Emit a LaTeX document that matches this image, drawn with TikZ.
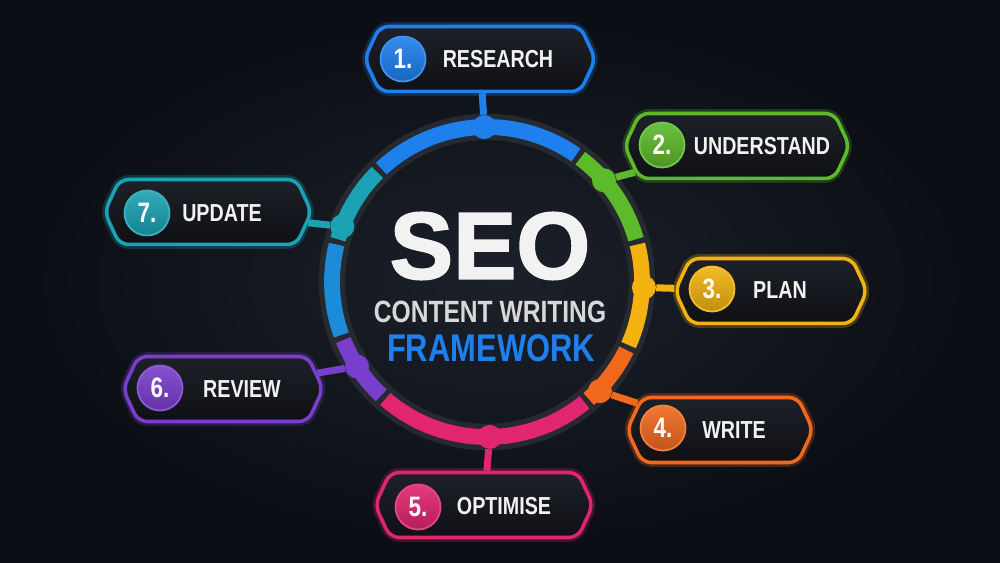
\documentclass[tikz,border=0pt]{standalone}
\usepackage{fontspec}
\setmainfont{Liberation Sans}
\newfontfamily\condfont[FakeStretch=0.8]{Liberation Sans}
\newfontfamily\heavyfont[FakeBold=2]{Liberation Sans}
\usepackage{tikz}
\usetikzlibrary{shapes.symbols}
\definecolor{bgin}{HTML}{1C2029}
\definecolor{bgout}{HTML}{0A0D13}
\definecolor{ringdark}{HTML}{262930}
\definecolor{sblue}{HTML}{1E80EC}
\definecolor{sgreen}{HTML}{5DBA2B}
\definecolor{syellow}{HTML}{F2B20F}
\definecolor{sorange}{HTML}{F2691E}
\definecolor{spink}{HTML}{E2256F}
\definecolor{spurple}{HTML}{7A3ECD}
\definecolor{steal}{HTML}{1BA2B4}
\definecolor{boxtop}{HTML}{1E2128}
\definecolor{boxbottom}{HTML}{0E1014}
\definecolor{txt}{HTML}{F2F2F2}
\definecolor{subtxt}{HTML}{D8D8D8}

\begin{document}
\begin{tikzpicture}[x=0.02cm, y=-0.02cm,
                    badge/.style={signal, signal to=west and east, signal pointer angle=130,
                                  rounded corners=5pt, draw=#1, line width=2pt,
                                  top color=boxtop, bottom color=boxbottom,
                                  minimum height=1.3cm, inner sep=0pt,
                                  preaction={draw=#1, line width=5pt, opacity=0.25}},
                    num/.style={circle, minimum size=0.9cm, inner sep=0pt,
                                top color=#1!90!white, bottom color=#1!80!black,
                                draw=#1!85!white, line width=1pt, text=white,
                                font=\condfont\bfseries\fontsize{16}{16}\selectfont},
                    steptext/.style={text=txt, inner sep=0pt,
                                     font=\condfont\bfseries\fontsize{14}{14}\selectfont},
                    ringdot/.style={circle, fill=#1, minimum size=0.48cm, inner sep=0pt},
                    connector/.style={draw=#1, line width=4pt},
                    ringseg/.style={draw=#1, line width=9pt},
                    title/.style={inner sep=0pt}]

    \useasboundingbox (0,0) rectangle (1000,563);
    \shade[inner color=bgin, outer color=bgout] (0,0) rectangle (1000,563);

    % ring
    \draw[ringdark, line width=15pt] (487,282) circle[radius=155];
    \begin{scope}[shift={(487,282)}, yscale=-1]
        \draw[ringseg=sgreen] (16:155) arc[start angle=16, end angle=53, radius=155];
        \draw[ringseg=sblue] (55:155) arc[start angle=55, end angle=133, radius=155];
        \draw[ringseg=steal] (135:155) arc[start angle=135, end angle=164, radius=155];
        \draw[ringseg=steal!35!sblue] (166:155) arc[start angle=166, end angle=200, radius=155];
        \draw[ringseg=spurple] (202:155) arc[start angle=202, end angle=227, radius=155];
        \draw[ringseg=spink] (229:155) arc[start angle=229, end angle=309, radius=155];
        \draw[ringseg=sorange] (311:155) arc[start angle=311, end angle=334, radius=155];
        \draw[ringseg=syellow] (336:155) arc[start angle=336, end angle=374, radius=155];
        % dots on the ring
        \node[ringdot=sblue] (d1) at (91:155) {};
        \node[ringdot=sgreen] (d2) at (41:155) {};
        \node[ringdot=syellow] (d3) at (-2:157) {};
        \node[ringdot=sorange] (d4) at (-44:157) {};
        \node[ringdot=spink] (d5) at (-89:155) {};
        \node[ringdot=spurple] (d6) at (213:155) {};
        \node[ringdot=steal] (d7) at (159:155) {};
    \end{scope}

    % step 1
    \node[badge=sblue, minimum width=4.62cm] (b1) at (480,59) {};
    \node[num=sblue] (n1) at (403,59) {1.};
    \node[steptext] (t1) at (498,59) {RESEARCH};
    % step 2
    \node[badge=sgreen, minimum width=4.5cm] (b2) at (737,146) {};
    \node[num=sgreen] (n2) at (662,145) {2.};
    \node[steptext] (t2) at (762,146) {UNDERSTAND};
    % step 3
    \node[badge=syellow, minimum width=3.84cm] (b3) at (771,291) {};
    \node[num=syellow] (n3) at (712,289) {3.};
    \node[steptext] (t3) at (780,290) {PLAN};
    % step 4
    \node[badge=sorange, minimum width=3.72cm] (b4) at (720,430) {};
    \node[num=sorange] (n4) at (663,428) {4.};
    \node[steptext] (t4) at (734,430) {WRITE};
    % step 5
    \node[badge=spink, minimum width=4.36cm] (b5) at (484,505) {};
    \node[num=spink] (n5) at (418,507) {5.};
    \node[steptext] (t5) at (504,506) {OPTIMISE};
    % step 6
    \node[badge=spurple, minimum width=4cm] (b6) at (223,389) {};
    \node[num=spurple] (n6) at (160,388) {6.};
    \node[steptext] (t6) at (242,389) {REVIEW};
    % step 7
    \node[badge=steal, minimum width=4.14cm] (b7) at (208,212) {};
    \node[num=steal] (n7) at (147,213) {7.};
    \node[steptext] (t7) at (222,213) {UPDATE};

    % connectors ring -> steps
    \draw[connector=sblue] (d1) -- (b1);
    \draw[connector=sgreen] (d2) -- (b2);
    \draw[connector=syellow] (d3) -- (b3);
    \draw[connector=sorange] (d4) -- (b4);
    \draw[connector=spink] (d5) -- (b5);
    \draw[connector=spurple] (d6) -- (b6);
    \draw[connector=steal] (d7) -- (b7);

    % title in the middle
    \node[title, text=txt, font=\heavyfont\bfseries\fontsize{54}{54}\selectfont] (seo) at (490,246) {SEO};
    \node[title, text=subtxt, font=\condfont\bfseries\fontsize{17.5}{18}\selectfont] (cw) at (490,312) {CONTENT WRITING};
    \node[title, text=sblue, font=\condfont\bfseries\fontsize{22}{22}\selectfont] (fw) at (491,348) {FRAMEWORK};
\end{tikzpicture}
\end{document}
